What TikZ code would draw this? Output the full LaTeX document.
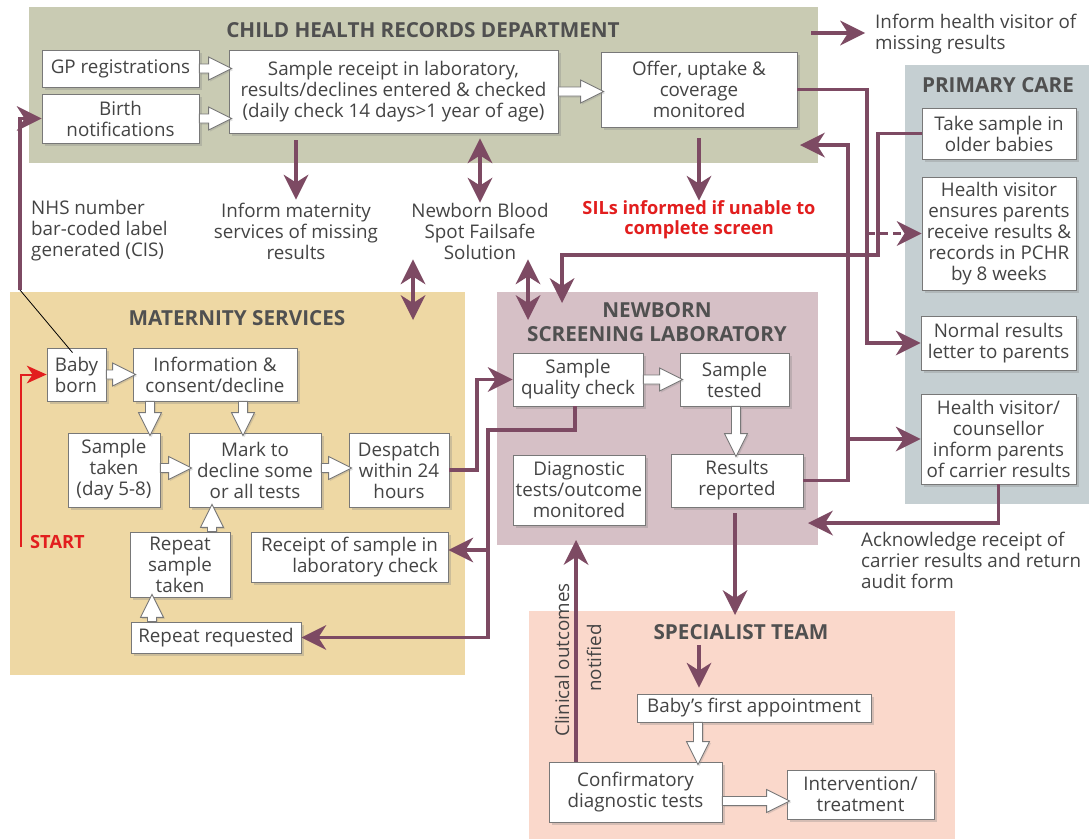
\documentclass[tikz,border=0pt]{standalone}
\usepackage{fontspec}
\setmainfont{Open Sans}
\usetikzlibrary{arrows.meta,shadows,calc}
\definecolor{plum}{RGB}{125,74,99}
\definecolor{chrdc}{RGB}{201,203,179}
\definecolor{matc}{RGB}{238,216,164}
\definecolor{labc}{RGB}{214,192,198}
\definecolor{pcc}{RGB}{197,207,210}
\definecolor{spc}{RGB}{250,216,203}
\definecolor{txt}{RGB}{68,68,68}
\definecolor{ttl}{RGB}{80,80,80}
\definecolor{redc}{RGB}{226,30,30}
\definecolor{hgray}{RGB}{120,120,120}
\newcommand\bfnt{\fontsize{18.8}{21}\selectfont}
\newcommand\tfnt{\bfseries\fontsize{20.7}{24}\selectfont}
\tikzset{
  box/.style={draw=hgray, line width=0.8pt, fill=white, align=center, inner sep=1pt,
    text=txt, font=\bfnt, drop shadow={shadow xshift=2.5pt, shadow yshift=-2.5pt, opacity=0.3}},
  plain/.style={text=txt, font=\bfnt, inner sep=0pt, align=center},
  ttlf/.style={text=ttl, font=\tfnt, inner sep=0pt, align=center},
  hol/.style={draw=hgray, fill=white, line width=0.9pt, line join=miter,
    drop shadow={shadow xshift=1.5pt, shadow yshift=-1.5pt, opacity=0.25},
    to path={let \p1=(\tikztostart), \p2=($(\tikztotarget)!-3pt!(\tikztostart)$), \p3=($(\p2)!23pt!(\p1)$) in
      ($(\p1)!4.5pt!90:(\p2)$) -- ($(\p3)!4.5pt!90:(\p2)$) -- ($(\p3)!11.5pt!90:(\p2)$) -- (\p2)
      -- ($(\p3)!11.5pt!-90:(\p2)$) -- ($(\p3)!4.5pt!-90:(\p2)$) -- ($(\p1)!4.5pt!-90:(\p2)$) -- cycle}},
  pl/.style={draw=plum, line width=3.4pt, -{Stealth[length=25pt,width=25pt,inset=8pt,line width=0pt]}},
  pld/.style={draw=plum, line width=3.4pt, {Stealth[length=25pt,width=25pt,inset=8pt,line width=0pt]}-{Stealth[length=25pt,width=25pt,inset=8pt,line width=0pt]}},
  rd/.style={draw=redc, line width=2pt, -{Stealth[length=20pt,width=18pt,inset=6pt,line width=0pt]}},
}
\begin{document}
\begin{tikzpicture}[x=1pt,y=-1pt]
\useasboundingbox (0,0) rectangle (1089,839);
\fill[white] (0,0) rectangle (1089,839);
% regions
\fill[chrdc] (29,7) rectangle (818,163);
\fill[pcc] (905,65) rectangle (1089,504);
\fill[matc] (10,292) rectangle (465,675);
\fill[labc] (497,292) rectangle (818,545);
\fill[spc] (529,611) rectangle (955,839);
% titles
\node[ttlf] (tchrd) at (423,30) {CHILD HEALTH RECORDS DEPARTMENT};
\node[ttlf] (tpc) at (998,85) {PRIMARY CARE};
\node[ttlf] (tmat) at (237,318) {MATERNITY SERVICES};
\node[ttlf] (tlab) at (657,322) {NEWBORN\\SCREENING LABORATORY};
\node[ttlf] (tsp) at (741,632) {SPECIALIST TEAM};
% boxes
\node[box, minimum width=157, minimum height=37] (gp) at (120.5,68.5) {GP registrations};
\node[box, minimum width=157, minimum height=49] (birth) at (120.5,118.5) {Birth\\notifications};
\node[box, minimum width=329, minimum height=83] (receipt) at (393.5,91.5) {Sample receipt in laboratory,\\results/declines entered \& checked\\(daily check 14 days>1 year of age)};
\node[box, minimum width=196, minimum height=75] (offer) at (699,89.5) {Offer, uptake \&\\coverage\\monitored};
\node[box, minimum width=154, minimum height=51] (take) at (999,133.5) {Take sample in\\older babies};
\node[box, minimum width=154, minimum height=113] (hvens) at (999,233.5) {Health visitor\\ensures parents\\receive results \&\\records in PCHR\\by 8 weeks};
\node[box, minimum width=155, minimum height=54] (normal) at (998.5,343) {Normal results\\letter to parents};
\node[box, minimum width=155, minimum height=90] (carrier) at (998.5,439) {Health visitor/\\counsellor\\inform parents\\of carrier results};
\node[box, minimum width=59, minimum height=53, align=left] (baby) at (76.5,374.5) {Baby\\born};
\node[box, minimum width=164, minimum height=53] (info) at (215,374.5) {Information \&\\consent/decline};
\node[box, minimum width=92, minimum height=74] (staken) at (114,470) {Sample\\taken\\(day 5-8)};
\node[box, minimum width=132, minimum height=74] (mark) at (255,470) {Mark to\\decline some\\or all tests};
\node[box, minimum width=100, minimum height=74] (desp) at (399,470) {Despatch\\within 24\\hours};
\node[box, minimum width=100, minimum height=65] (rstaken) at (180,564.5) {Repeat\\sample\\taken};
\node[box, minimum width=170, minimum height=31] (rreq) at (216,637.5) {Repeat requested};
\node[box, minimum width=197, minimum height=50, align=right] (rcpt) at (349.5,557) {Receipt of sample in\\laboratory check};
\node[box, minimum width=130, minimum height=53] (sqc) at (578,379.5) {Sample\\quality check};
\node[box, minimum width=109, minimum height=53] (stested) at (734.5,379.5) {Sample\\tested};
\node[box, minimum width=132, minimum height=53] (results) at (737,480.5) {Results\\reported};
\node[box, minimum width=132, minimum height=70] (diag) at (579,490) {Diagnostic\\tests/outcome\\monitored};
\node[box, minimum width=234, minimum height=28] (first) at (754,708) {Baby’s first appointment};
\node[box, minimum width=173, minimum height=60] (confirm) at (635.5,792) {Confirmatory\\diagnostic tests};
\node[box, minimum width=147, minimum height=49] (interv) at (860.5,794.5) {Intervention/\\treatment};
% free texts
\node[plain, anchor=west, align=left] (nhs) at (31,231) {NHS number\\bar-coded label\\generated (CIS)};
\node[plain] (infm) at (296,231) {Inform maternity\\services of missing\\results};
\node[plain] (nbs) at (480,231) {Newborn Blood\\Spot Failsafe\\Solution};
\node[plain, text=redc, font=\bfseries\fontsize{18.2}{20}\selectfont] (sils) at (699,220) {SILs informed if unable to\\complete screen};
\node[plain, anchor=west, align=left] (ihv) at (875,34) {Inform health visitor of\\missing results};
\node[plain, anchor=west, align=left] (ack) at (861,560) {Acknowledge receipt of\\carrier results and return\\audit form};
\node[plain, anchor=west, text=redc, font=\bfseries\fontsize{18.2}{20}\selectfont] (start) at (30,542) {START};
\node[plain, rotate=90] (clin) at (562,660) {Clinical outcomes};
\node[plain, rotate=90] (notif) at (594,658) {notified};
% helper coordinates
\coordinate (x150) at (150,0);
\coordinate (x243) at (243,0);
\coordinate (x212) at (212,0);
\coordinate (x152) at (152,0);
\coordinate (x736) at (736,0);
\coordinate (x698) at (698,0);
\coordinate (x699) at (699,0);
\coordinate (y468) at (0,468);
\coordinate (y801) at (0,801);
\coordinate (y550) at (0,550);
\coordinate (x867) at (867,0);
\coordinate (x848) at (848,0);
\coordinate (x878) at (878,0);
\coordinate (x477) at (477,0);
\coordinate (x488) at (488,0);
\coordinate (q1) at (575,430);
\coordinate (tk2) at (562,255);
\coordinate (labin) at (562,303);
\coordinate (chrdin) at (800,145);
\coordinate (labr) at (808,523);
\coordinate (m1) at (413,320);
\coordinate (l1) at (528,320);
\coordinate (spin) at (735,615);
\coordinate (diagin) at (576,540);
\coordinate (ihv0) at (811,33);
\coordinate (nhs0) at (20,290);
\coordinate (st0) at (21,547);
% hollow arrows
\draw[hol] (gp.east) to (gp.east -| receipt.west);
\draw[hol] (birth.east) to (birth.east -| receipt.west);
\draw[hol] (receipt.east) to (receipt.east -| offer.west);
\draw[hol] (baby.east) to (baby.east -| info.west);
\draw[hol] (info.south -| x150) to (staken.north -| x150);
\draw[hol] (info.south -| x243) to (mark.north -| x243);
\draw[hol] (staken.east |- y468) to (mark.west |- y468);
\draw[hol] (mark.east |- y468) to (desp.west |- y468);
\draw[hol] (rstaken.north -| x212) to (mark.south -| x212);
\draw[hol] (rreq.north -| x152) to (rstaken.south -| x152);
\draw[hol] (sqc.east) to (sqc.east -| stested.west);
\draw[hol] (stested.south -| x736) to (results.north -| x736);
\draw[hol] (first.south -| x698) to (confirm.north -| x698);
\draw[hol] (confirm.east |- y801) to (interv.west |- y801);
% plum connectors
\draw[pl, shorten <=7pt, shorten >=3pt] (receipt.south -| infm) -- (infm.north);
\draw[pld, shorten <=5pt] (receipt.south -| nbs) -- (nbs.north);
\draw[pl, shorten <=11pt] (offer.south -| sils) -- (sils.north);
\draw[pld] (nbs.south -| m1) -- (m1);
\draw[pld] (nbs.south -| l1) -- (l1);
\draw[pl] (take.west) -| (x878 |- tk2) -- (tk2) -- (labin);
\draw[pl] (offer.east) -| (x867 |- normal.west) -- (normal.west);
\draw[pl, dash pattern=on 8pt off 5pt] (x867 |- hvens.west) -- (hvens.west);
\draw[pl] (results.east) -| (x848 |- chrdin) -- (chrdin);
\draw[pl] (x848 |- carrier.west) -- (carrier.west);
\draw[pl] (carrier.south) |- (labr);
\draw[pl] (desp.east) -| (x477 |- sqc.west) -- (sqc.west);
\draw[pl] (sqc.south -| q1) -- (q1) -| (x488 |- rreq.east) -- (rreq.east);
\draw[pl] (x488 |- y550) -- (rcpt.east |- y550);
\draw[pl, shorten <=6pt] (results.south -| spin) -- (spin);
\draw[pl, shorten <=5pt, shorten >=6pt] (tsp.south -| x699) -- (first.north -| x699);
\draw[pl] (confirm.north -| diagin) -- (diagin);
\draw[pl, shorten >=10pt] (ihv0) -- (ihv.west |- ihv0);
\draw[pl] (nhs0) |- (birth.west);
\draw[black, line width=0.8pt] (nhs0) -- ($(baby.north)+(-4,5)$);
\draw[rd] (st0) |- (baby.west);
\end{tikzpicture}
\end{document}
